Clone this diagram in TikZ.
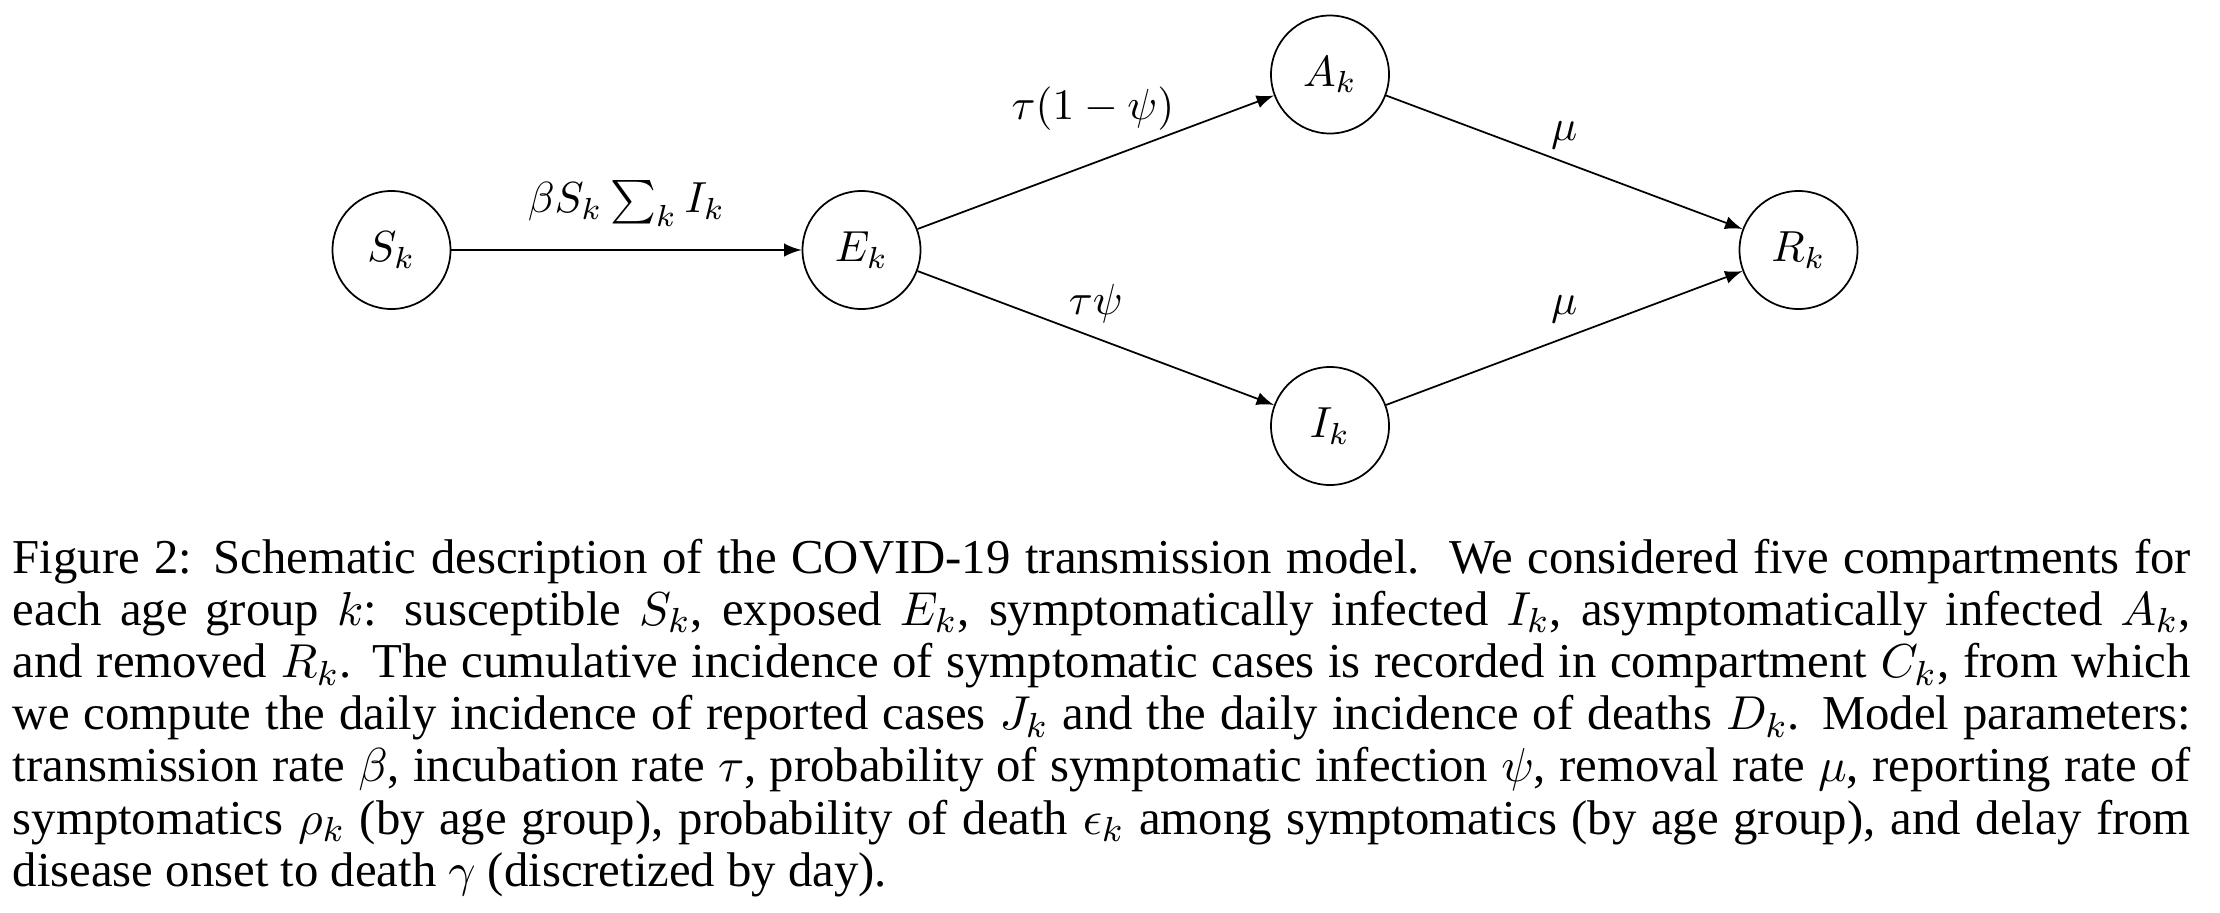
\documentclass[tikz,border=0pt]{standalone}
\usepackage{fontspec}
\setmainfont{Liberation Serif}
\begin{document}
\begin{tikzpicture}[x=0.2299pt,y=-0.2299pt,>=latex,
  comp/.style={circle,draw,line width=0.4pt,minimum size=27.13pt,inner sep=0pt,font=\fontsize{10}{12}\selectfont},
  flow/.style={->,line width=0.4pt},
  lbl/.style={font=\fontsize{10}{12}\selectfont,inner sep=0pt,anchor=base},
  capline/.style={anchor=base west,inner sep=0pt,font=\fontsize{11.2}{12}\selectfont}]
\useasboundingbox (0,0) rectangle (2220,912);
\node[comp] (S) at (391.5,250) {$S_k$};
\node[comp] (E) at (861.5,250) {$E_k$};
\node[comp] (A) at (1330,74.5) {$A_k$};
\node[comp] (I) at (1330,426) {$I_k$};
\node[comp] (R) at (1798.5,250) {$R_k$};
\draw[flow] (S) -- node[lbl,yshift=8.51pt] (l1) {$\beta S_k\sum_k I_k$} (E);
\draw[flow] (E) -- node[lbl,yshift=9.77pt,xshift=-0.63pt] (l2) {$\tau(1-\psi)$} (A);
\draw[flow] (E) -- node[lbl,yshift=5.29pt] (l3) {$\tau\psi$} (I);
\draw[flow] (A) -- node[lbl,yshift=5.06pt] (l4) {$\mu$} (R);
\draw[flow] (I) -- node[lbl,yshift=5.29pt] (l5) {$\mu$} (R);
\node[capline] (c1) at (12,573) {\makebox[500.7pt][s]{Figure 2: Schematic description of the COVID-19 transmission model.\ \ We considered five compartments for}};
\node[capline] (c2) at (12,625.2) {\makebox[500.7pt][s]{each age group $k$: susceptible $S_k$, exposed $E_k$, symptomatically infected $I_k$, asymptomatically infected $A_k$,}};
\node[capline] (c3) at (12,677.4) {\makebox[500.7pt][s]{and removed $R_k$. The cumulative incidence of symptomatic cases is recorded in compartment $C_k$, from which}};
\node[capline] (c4) at (12,729.6) {\makebox[500.7pt][s]{we compute the daily incidence of reported cases $J_k$ and the daily incidence of deaths $D_k$. Model parameters:}};
\node[capline] (c5) at (12,781.8) {\makebox[500.7pt][s]{transmission rate $\beta$, incubation rate $\tau$, probability of symptomatic infection $\psi$, removal rate $\mu$, reporting rate of}};
\node[capline] (c6) at (12,834) {\makebox[500.7pt][s]{symptomatics $\rho_k$ (by age group), probability of death $\epsilon_k$ among symptomatics (by age group), and delay from}};
\node[capline] (c7) at (12,886.2) {disease onset to death $\gamma$ (discretized by day).};
\end{tikzpicture}
\end{document}
